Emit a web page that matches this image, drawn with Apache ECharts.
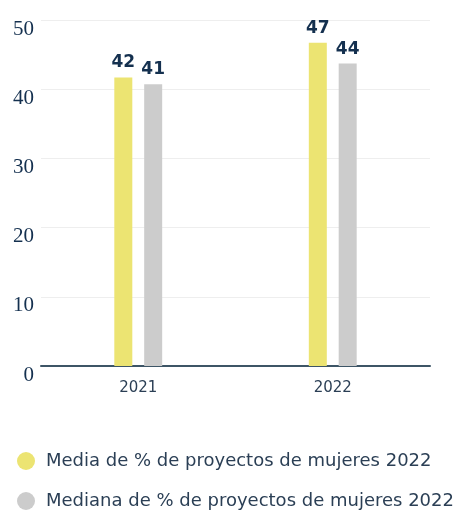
<!DOCTYPE html>
<html>
<head>
<meta charset="utf-8">
<script src="https://cdn.jsdelivr.net/npm/echarts@6/dist/echarts.min.js"></script>
<style>
  html, body { margin: 0; padding: 0; background: #fff; }
  #chart { width: 461px; height: 510px; }
</style>
</head>
<body>
<div id="chart"></div>
<script>
var years = ['2021', '2022']
// bar heights, labels show them rounded
var media = [41.7, 46.7]
var mediana = [40.7, 43.7]
var seriesNames = ['Media de % de proyectos de mujeres 2022', 'Mediana de % de proyectos de mujeres 2022']

var chart = echarts.init(document.getElementById('chart'))
var labelStyle = {
  show: true,
  position: 'top',
  distance: 6,
  color: '#14304f',
  fontFamily: 'DejaVu Sans',
  fontWeight: 'bold',
  fontSize: 17,
  formatter: function (p) { return Math.round(p.value) }
}
var legendBase = {
  left: 12,
  icon: 'circle',
  itemWidth: 18,
  itemHeight: 18,
  selectedMode: false,
  textStyle: { color: '#2b3f55', fontSize: 18, fontFamily: 'DejaVu Sans', padding: [0, 0, 0, 6] }
}
chart.setOption({
  animation: false,
  legend: [
    Object.assign({}, legendBase, { top: 447, data: [seriesNames[0]] }),
    Object.assign({}, legendBase, { top: 487, data: [seriesNames[1]] })
  ],
  grid: { left: 41, right: 31, top: 20, bottom: 144 },
  xAxis: {
    type: 'category',
    data: years,
    axisLine: { lineStyle: { color: '#3d5566', width: 2 } },
    axisTick: { show: false },
    axisLabel: { color: '#2b3f55', fontSize: 15, fontFamily: 'DejaVu Sans', margin: 15 }
  },
  yAxis: {
    type: 'value',
    min: 0,
    max: 50,
    interval: 10,
    axisLabel: {
      color: '#14304f',
      fontSize: 21,
      fontFamily: 'Liberation Serif',
      margin: 7,
      verticalAlign: 'top',
      lineHeight: 18
    },
    splitLine: { lineStyle: { color: '#eeeeee' } }
  },
  series: [
    {
      name: seriesNames[0],
      type: 'bar',
      data: media,
      barWidth: 18,
      barGap: '66%',
      itemStyle: { color: '#ece472' },
      label: labelStyle
    },
    {
      name: seriesNames[1],
      type: 'bar',
      data: mediana,
      barWidth: 18,
      itemStyle: { color: '#cccccc' },
      label: labelStyle
    }
  ]
})
</script>
</body>
</html>
